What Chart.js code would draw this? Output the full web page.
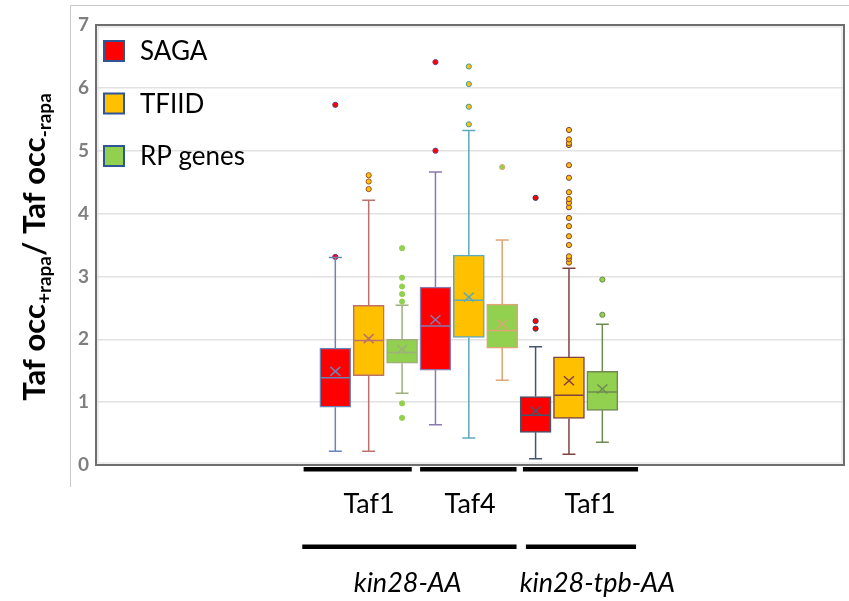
<!doctype html>
<html>
<head>
    <title>Taf occupancy</title>
    <script src="https://cdn.jsdelivr.net/npm/chart.js@4"></script>
    <style>
        html, body {
            margin: 0px;
            padding: 0px;
            background: #fff;
            overflow: hidden;
        }
        canvas { display: block; }
    </style>
</head>
<body>
    <canvas id="canvas" width="849" height="601"></canvas>
    <script>
        // ---- data ----
        var seriesNames = ['SAGA', 'TFIID', 'RP genes'];
        var tafLabels = ['Taf1', 'Taf4', 'Taf1'];
        var strainLabels = ['kin28-AA', 'kin28-tpb-AA'];
        var yTicks = [0, 1, 2, 3, 4, 5, 6, 7];

        // one entry per group: [min, q1, median, q3, max]
        var sagaBox  = [[0.22, 0.92, 1.39, 1.86, 3.30], [0.64, 1.51, 2.21, 2.83, 4.66], [0.10, 0.52, 0.79, 1.09, 1.88]];
        var tfiidBox = [[0.22, 1.42, 1.98, 2.54, 4.21], [0.43, 2.03, 2.62, 3.34, 5.32], [0.17, 0.74, 1.11, 1.72, 3.13]];
        var rpBox    = [[1.14, 1.62, 1.79, 2.00, 2.54], [1.35, 1.86, 2.14, 2.56, 3.58], [0.36, 0.87, 1.16, 1.49, 2.24]];

        var sagaMean  = [1.49, 2.31, 0.86];
        var tfiidMean = [2.01, 2.67, 1.34];
        var rpMean    = [1.84, 2.24, 1.21];

        var sagaOut  = [[3.31, 5.73], [5.00, 6.41], [2.17, 2.29, 4.25]];
        var tfiidOut = [[4.39, 4.51, 4.61], [5.42, 5.70, 6.06, 6.34],
                        [3.22, 3.28, 3.32, 3.50, 3.64, 3.80, 3.93, 4.10, 4.17, 4.23, 4.34, 4.57, 4.77, 5.09, 5.12, 5.18, 5.33]];
        var rpOut    = [[0.75, 0.98, 2.60, 2.72, 2.84, 2.98, 3.45], [4.74], [2.39, 2.95]];

        // ---- look ----
        var fills = ['#FF0000', '#FFC000', '#92D050'];
        var sagaLine  = ['#6A83B8', '#8A7AAE', '#46546C'];
        var tfiidLine = ['#BC716C', '#5EA9BC', '#7E4242'];
        var rpLine    = ['#9DB07A', '#DFA574', '#6E8A50'];
        var sagaDot  = ['#5A3F8A', '#7A3F8A', '#2F3F6A'];
        var tfiidDot = ['#A0522D', '#3E9AAE', '#7E4242'];
        var rpDot    = ['#92D050', '#DFA574', '#6E8A50'];

        // bracket bars under the axis and label centres, in x-axis units
        var tafSpans = [[0.05, 3.29], [3.54, 6.43], [6.62, 10.07]];
        var tafLabelX = [2.01, 5.04, 8.63];
        var strainSpans = [[0.01, 6.43], [6.71, 10.01]];
        var strainLabelX = [3.17, 8.85];
        var X_MIN = -6.17, X_MAX = 16.24;

        var FONT = 'Lato, "Open Sans", sans-serif';

        var boxes = [sagaBox, tfiidBox, rpBox];
        var means = [sagaMean, tfiidMean, rpMean];
        var outs = [sagaOut, tfiidOut, rpOut];
        var lines = [sagaLine, tfiidLine, rpLine];
        var dots = [sagaDot, tfiidDot, rpDot];

        function posOf(g, s){ return g * 3 + s + 1; }

        var datasets = [];
        for(var s = 0; s < 3; ++s){
            datasets.push({
                type: 'bar',
                label: seriesNames[s],
                data: boxes[s].map(function(b, g){ return { x: posOf(g, s), y: [b[1], b[3]] }; }),
                backgroundColor: fills[s],
                borderColor: lines[s],
                borderWidth: 1.5,
                borderSkipped: false,
                grouped: false,
                barThickness: 31,
                order: 2
            });
        }
        for(var s = 0; s < 3; ++s){
            var pts = [], borders = [];
            for(var g = 0; g < 3; ++g){
                for(var k = 0; k < outs[s][g].length; ++k){
                    pts.push({ x: posOf(g, s), y: outs[s][g][k] });
                    borders.push(dots[s][g]);
                }
            }
            datasets.push({
                type: 'scatter',
                label: seriesNames[s] + ' outliers',
                data: pts,
                pointRadius: 2.6,
                pointBackgroundColor: fills[s],
                pointBorderColor: borders,
                pointBorderWidth: 1,
                order: 1
            });
        }

        // whiskers, medians and mean crosses on top of the boxes
        var boxDetails = {
            id: 'boxDetails',
            afterDatasetsDraw: function(chart){
                var ctx = chart.ctx, xs = chart.scales.x, ys = chart.scales.y;
                ctx.save();
                for(var s = 0; s < 3; ++s){
                    for(var g = 0; g < 3; ++g){
                        var b = boxes[s][g];
                        var cx = xs.getPixelForValue(posOf(g, s));
                        var yMin = ys.getPixelForValue(b[0]), yQ1 = ys.getPixelForValue(b[1]);
                        var yMed = ys.getPixelForValue(b[2]), yQ3 = ys.getPixelForValue(b[3]);
                        var yMax = ys.getPixelForValue(b[4]);
                        ctx.strokeStyle = lines[s][g];
                        ctx.lineWidth = 1.5;
                        ctx.beginPath();
                        ctx.moveTo(cx, yQ3); ctx.lineTo(cx, yMax);
                        ctx.moveTo(cx - 6.5, yMax); ctx.lineTo(cx + 6.5, yMax);
                        ctx.moveTo(cx, yQ1); ctx.lineTo(cx, yMin);
                        ctx.moveTo(cx - 6.5, yMin); ctx.lineTo(cx + 6.5, yMin);
                        ctx.moveTo(cx - 14.5, yMed); ctx.lineTo(cx + 14.5, yMed);
                        ctx.stroke();
                        var ym = ys.getPixelForValue(means[s][g]);
                        ctx.beginPath();
                        ctx.moveTo(cx - 5, ym - 4.5); ctx.lineTo(cx + 5, ym + 4.5);
                        ctx.moveTo(cx - 5, ym + 4.5); ctx.lineTo(cx + 5, ym - 4.5);
                        ctx.stroke();
                    }
                }
                ctx.restore();
            }
        };

        // frame, legend, axis title and the brackets below the plot
        var decorations = {
            id: 'decorations',
            afterDraw: function(chart){
                var ctx = chart.ctx, ca = chart.chartArea, xs = chart.scales.x;
                ctx.save();

                ctx.strokeStyle = '#c8c8c8';
                ctx.lineWidth = 1;
                ctx.beginPath();
                ctx.moveTo(70.5, 487); ctx.lineTo(70.5, 5.5); ctx.lineTo(849, 5.5);
                ctx.stroke();

                ctx.strokeStyle = '#dcdcdc';
                ctx.strokeRect(ca.left + 2, ca.top + 2, ca.right - ca.left - 4, ca.bottom - ca.top - 4);
                ctx.strokeStyle = '#6e6e6e';
                ctx.lineWidth = 2;
                ctx.strokeRect(ca.left, ca.top, ca.right - ca.left, ca.bottom - ca.top);

                // legend
                ctx.font = '26px ' + FONT;
                ctx.textBaseline = 'middle';
                ctx.textAlign = 'left';
                for(var i = 0; i < 3; ++i){
                    var ly = ca.top + 26 + i * 52.5;
                    ctx.fillStyle = fills[i];
                    ctx.fillRect(ca.left + 8, ly - 10, 20, 20);
                    ctx.strokeStyle = '#2F5597';
                    ctx.lineWidth = 2;
                    ctx.strokeRect(ca.left + 8, ly - 10, 20, 20);
                    ctx.fillStyle = '#000';
                    ctx.fillText(seriesNames[i], ca.left + 44, ly + 1);
                }

                // brackets
                ctx.fillStyle = '#000';
                tafSpans.forEach(function(sp){
                    var a = xs.getPixelForValue(sp[0]), b = xs.getPixelForValue(sp[1]);
                    ctx.fillRect(a, ca.bottom + 2, b - a, 4.5);
                });
                strainSpans.forEach(function(sp){
                    var a = xs.getPixelForValue(sp[0]), b = xs.getPixelForValue(sp[1]);
                    ctx.fillRect(a, ca.bottom + 79.5, b - a, 4.5);
                });
                ctx.textAlign = 'center';
                ctx.font = '27px ' + FONT;
                tafLabels.forEach(function(t, i){
                    ctx.fillText(t, xs.getPixelForValue(tafLabelX[i]), ca.bottom + 39);
                });
                ctx.font = 'italic 27px ' + FONT;
                strainLabels.forEach(function(t, i){
                    ctx.fillText(t, xs.getPixelForValue(strainLabelX[i]), ca.bottom + 118);
                });

                // y title with subscripts, rotated
                var parts = [['Taf occ', 0], ['+rapa', 1], ['/ Taf occ', 0], ['-rapa', 1]];
                var big = 'bold 31px ' + FONT, small = 'bold 19px ' + FONT;
                var total = 0;
                parts.forEach(function(p){ ctx.font = p[1] ? small : big; total += ctx.measureText(p[0]).width; });
                ctx.translate(45, 247);
                ctx.rotate(-Math.PI / 2);
                ctx.textAlign = 'left';
                ctx.textBaseline = 'alphabetic';
                var x = -total / 2;
                parts.forEach(function(p){
                    ctx.font = p[1] ? small : big;
                    ctx.fillText(p[0], x, p[1] ? 6 : 0);
                    x += ctx.measureText(p[0]).width;
                });
                ctx.restore();
            }
        };

        window.onload = function(){
            var ctx = document.getElementById('canvas').getContext('2d');
            window.myChart = new Chart(ctx, {
                type: 'bar',
                data: { datasets: datasets },
                options: {
                    responsive: false,
                    animation: false,
                    layout: { padding: { left: 40, top: 25, right: 1, bottom: 136 } },
                    plugins: {
                        legend: { display: false },
                        tooltip: { enabled: false }
                    },
                    scales: {
                        x: { type: 'linear', min: X_MIN, max: X_MAX, offset: false, display: false },
                        y: {
                            min: 0,
                            max: 7,
                            afterBuildTicks: function(scale){ scale.ticks = yTicks.map(function(v){ return { value: v }; }); },
                            afterFit: function(scale){ scale.width = 56; },
                            ticks: {
                                padding: 7,
                                color: '#7f7f7f',
                                font: { family: FONT, size: 19, weight: 'bold' }
                            },
                            grid: { color: '#e2e2e2', lineWidth: 1.5, drawTicks: false },
                            border: { display: false }
                        }
                    }
                },
                plugins: [boxDetails, decorations]
            });
        };
    </script>
</body>
</html>
